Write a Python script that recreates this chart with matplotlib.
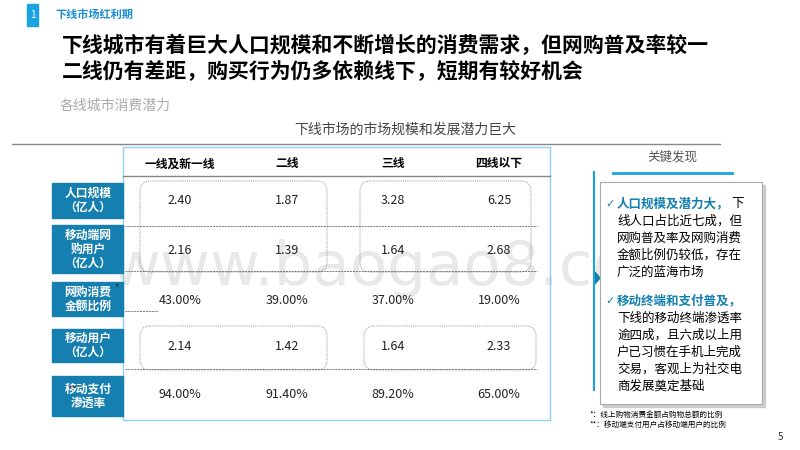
import matplotlib
matplotlib.use("Agg")
import matplotlib.pyplot as plt
from matplotlib.patches import Rectangle, FancyBboxPatch, Polygon

plt.rcParams['font.family'] = ['Noto Sans CJK SC', 'DejaVu Sans']

columns = ["一线及新一线", "二线", "三线", "四线以下"]
row_labels = ["人口规模\n（亿人）", "移动端网\n购用户\n（亿人）", "网购消费\n金额比例", "移动用户\n（亿人）", "移动支付\n渗透率"]
population = ["2.40", "1.87", "3.28", "6.25"]
mobile_shoppers = ["2.16", "1.39", "1.64", "2.68"]
online_share = ["43.00%", "39.00%", "37.00%", "19.00%"]
mobile_users = ["2.14", "1.42", "1.64", "2.33"]
mobile_pay = ["94.00%", "91.40%", "89.20%", "65.00%"]
table_rows = [population, mobile_shoppers, online_share, mobile_users, mobile_pay]

BLUE = "#1580b0"
fig = plt.figure(figsize=(8, 4.5), dpi=100)
ax = fig.add_axes([0, 0, 1, 1])
ax.set_xlim(0, 800); ax.set_ylim(450, 0); ax.axis("off")

# header
ax.add_patch(Rectangle((27, 4), 11, 22, color="#1aa3e0"))
ax.text(32.5, 15, "1", color="white", fontsize=7, ha="center", va="center")
ax.text(55, 14, "下线市场红利期", color="#1a8fd0", fontsize=8, va="center", weight="bold")
ax.text(62, 45, "下线城市有着巨大人口规模和不断增长的消费需求，但网购普及率较一", fontsize=15, weight="heavy", va="center")
ax.text(62, 72, "二线仍有差距，购买行为仍多依赖线下，短期有较好机会", fontsize=15, weight="heavy", va="center")
ax.text(60, 106, "各线城市消费潜力", color="#aaaaaa", fontsize=10, va="center")
ax.text(405, 130, "下线市场的市场规模和发展潜力巨大", color="#444444", fontsize=10, ha="center", va="center")
ax.plot([12, 720], [144, 144], color="#888888", lw=1)

# watermark
ax.text(400, 268, "www.baogao8.com", color="#e6e6e6", fontsize=44, ha="center", va="center", zorder=0.5, alpha=0.9,
        family="DejaVu Sans")

# table
ax.add_patch(Rectangle((123, 147), 427, 273, fill=False, ec="#8fd0ee", lw=1))
ax.plot([123, 550], [176, 176], color="#888888", lw=1)
xs = [180, 287, 393, 499]
for x, c in zip(xs, columns):
    ax.text(x, 164, c, fontsize=8.5, weight="bold", ha="center", va="center")
boxes = [(183, 218), (225, 273), (282, 316), (329, 362), (376, 416)]
vals_y = [200, 250, 300, 346, 394]
for (y0, y1), lab in zip(boxes, row_labels):
    ax.add_patch(Rectangle((52, y0), 71, y1 - y0, color=BLUE))
    ax.text(88, (y0 + y1) / 2, lab, color="white", fontsize=8.5, weight="bold", ha="center", va="center", linespacing=1.1)
ax.text(117, 287, "*", color="#333333", fontsize=7, ha="center", va="center")
ax.text(72, 389, "**", color="#333333", fontsize=7, ha="center", va="center")
for row, y in zip(table_rows, vals_y):
    for x, v in zip(xs, row):
        ax.text(x, y, v, fontsize=9, ha="center", va="center", color="#222222")
for (x0, y0, x1, y1) in [(140, 181, 327, 272), (360, 181, 531, 272), (140, 326, 327, 370), (364, 326, 536, 370)]:
    ax.add_patch(FancyBboxPatch((x0, y0), x1 - x0, y1 - y0, boxstyle="round,pad=0,rounding_size=10",
                                fill=False, ec="#999999", lw=0.7, ls=(0, (1, 1))))
ax.plot([125, 537], [226, 226], color="#777777", lw=0.7, ls=(0, (2, 1)))
ax.plot([125, 537], [271, 271], color="#777777", lw=0.7, ls=(0, (2, 1)))
ax.plot([125, 158], [311, 311], color="#777777", lw=0.7, ls=(0, (2, 1)))
ax.plot([125, 537], [369, 369], color="#777777", lw=0.7, ls=(0, (2, 1)))

# right panel
ax.text(672, 157, "关键发现", color="#555555", fontsize=9, ha="center", va="center")
ax.plot([613, 732], [173, 173], color="#1aa3e0", lw=2)
ax.plot([594, 594], [172, 390], color="#1aa3e0", lw=1.5)
ax.add_patch(Polygon([[594, 271], [600, 278], [594, 285]], color=BLUE))
ax.add_patch(Rectangle((603, 185), 162, 222, color="#cccccc"))
ax.add_patch(Rectangle((600, 182), 162, 222, fc="white", ec="#aaaaaa", lw=0.8))
ax.text(605, 204, "✓", color=BLUE, fontsize=8, va="center", family="DejaVu Sans")
ax.text(617, 204, "人口规模及潜力大，", color=BLUE, fontsize=9, weight="bold", va="center")
ax.text(731, 204, "下", fontsize=9, va="center")
for i, line in enumerate(["线人口占比近七成，但", "网购普及率及网购消费", "金额比例仍较低，存在", "广泛的蓝海市场"]):
    ax.text(617, 221 + i * 17, line, fontsize=9, va="center")
ax.text(605, 301, "✓", color=BLUE, fontsize=8, va="center", family="DejaVu Sans")
ax.text(617, 301, "移动终端和支付普及，", color=BLUE, fontsize=9, weight="bold", va="center")
for i, line in enumerate(["下线的移动终端渗透率", "逾四成，且六成以上用", "户已习惯在手机上完成", "交易，客观上为社交电", "商发展奠定基础"]):
    ax.text(617, 318 + i * 17, line, fontsize=9, va="center")
ax.text(590, 415, "*：线上购物消费金额占购物总额的比例", fontsize=5.5, va="center")
ax.text(590, 425, "**：移动端支付用户占移动端用户的比例", fontsize=5.5, va="center")
ax.text(778, 437, "5", fontsize=7, va="center", color="#333333")

fig.savefig("out.png", dpi=100)
